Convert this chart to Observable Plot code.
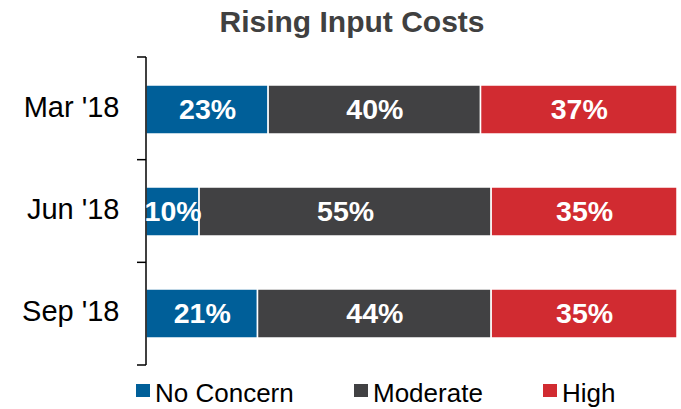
<!DOCTYPE html>
<html>
<head>
<meta charset="utf-8">
<script src="https://cdn.jsdelivr.net/npm/d3@7"></script>
<script src="https://cdn.jsdelivr.net/npm/@observablehq/plot@0.6"></script>
<style>
  html, body { margin: 0; padding: 0; background: #fff; }
  #wrap { position: relative; width: 681px; height: 409px; font-family: "Liberation Sans", Arial, sans-serif; }
  #title { position: absolute; left: 0; width: 704px; top: 7px; text-align: center; font-size: 30px; font-weight: bold; color: #404040; line-height: 1; }
  .leg { position: absolute; top: 380px; font-size: 26px; line-height: 1; color: #000; white-space: nowrap; }
  .sw { position: absolute; width: 14px; height: 13px; top: 4px; left: 0; }
  .leg span.t { position: absolute; left: 19px; top: 0; }
  #chart { position: absolute; left: 0; top: 0; }
</style>
</head>
<body>
<div id="wrap">
  <div id="chart"></div>
  <div id="title">Rising Input Costs</div>
  <div id="legend"></div>
</div>
<script>
const dates = ["Mar '18", "Jun '18", "Sep '18"];
const categories = ["No Concern", "Moderate", "High"];
const noConcern = [23, 10, 21];
const moderate = [40, 55, 44];
const high = [37, 35, 35];
const colors = ["#005f99", "#414143", "#d12b31"];
const legendLeft = [136, 354, 543];

const series = [noConcern, moderate, high];
const data = [];
categories.forEach((c, ci) => {
  dates.forEach((d, di) => data.push({date: d, cat: c, value: series[ci][di]}));
});

function boundaryTicks(index, scales, values, dimensions) {
  const {marginTop, marginBottom, height} = dimensions;
  const n = dates.length;
  const step = (height - marginTop - marginBottom) / n;
  const g = d3.create("svg:g");
  const x0 = scales.x(0);
  for (let i = 0; i <= n; i++) {
    const yy = marginTop + i * step;
    g.append("line").attr("x1", x0 - 9).attr("x2", x0).attr("y1", yy).attr("y2", yy)
      .attr("stroke", "black").attr("stroke-width", 1.5);
  }
  return g.node();
}

const plot = Plot.plot({
  width: 681,
  height: 409,
  marginLeft: 146,
  marginRight: 4,
  marginTop: 57,
  marginBottom: 44,
  style: {fontFamily: "Liberation Sans, Arial, sans-serif", color: "black", background: "transparent"},
  x: {domain: [0, 100], axis: null},
  y: {domain: dates, paddingInner: 0.52, paddingOuter: 0.26, axis: null},
  color: {domain: categories, range: colors},
  marks: [
    Plot.barX(data, Plot.stackX({x: "value", y: "date", z: "cat", fill: "cat", stroke: "white", strokeWidth: 1.5, order: null})),
    Plot.ruleX([0], {stroke: "black", strokeWidth: 1.5, dx: -0.5}),
    Plot.axisY({tickSize: 0, tickPadding: 27, fontSize: 29, label: null, fill: "black", dy: -2}),
    boundaryTicks,
    Plot.text(data, Plot.stackX({x: "value", y: "date", z: "cat", text: d => d.value + "%", fill: "white", fontSize: 28.5, fontWeight: "bold", order: null}))
  ]
});
document.getElementById("chart").appendChild(plot);

const legend = document.getElementById("legend");
categories.forEach((c, i) => {
  const item = document.createElement("div");
  item.className = "leg";
  item.style.left = legendLeft[i] + "px";
  const sw = document.createElement("span");
  sw.className = "sw";
  sw.style.background = colors[i];
  const t = document.createElement("span");
  t.className = "t";
  t.textContent = c;
  item.appendChild(sw);
  item.appendChild(t);
  legend.appendChild(item);
});
</script>
</body>
</html>
